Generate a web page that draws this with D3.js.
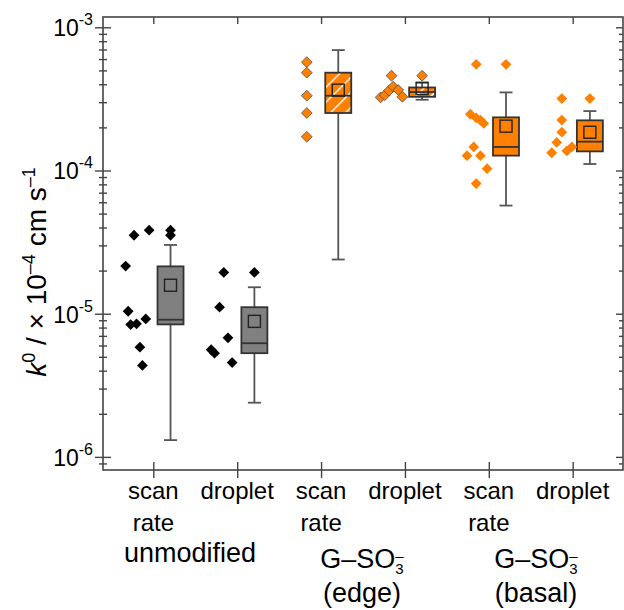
<!DOCTYPE html>
<html>
<head>
<meta charset="utf-8">
<script src="https://cdn.jsdelivr.net/npm/d3@7/dist/d3.min.js"></script>
<style>
  body { margin: 0; background: #fff; }
  text { font-family: "Liberation Sans", Arial, sans-serif; fill: #000; }
</style>
</head>
<body>
<div id="chart"></div>
<script>
// ---- data ----
const categories = [["scan", "rate"], ["droplet"], ["scan", "rate"], ["droplet"], ["scan", "rate"], ["droplet"]];
const groupLabels = ["unmodified", "edge", "basal"];
const yTickValues = [1e-6, 1e-5, 1e-4, 1e-3];

// individual measurements (cm/s) and their horizontal spread (category units)
const unmodScan = [2.15e-5, 3.53e-5, 3.83e-5, 1.04e-5, 8.4e-6, 8.5e-6, 9.2e-6, 5.84e-6, 4.35e-6];
const unmodScanJitter = [-0.33, -0.23, -0.05, -0.30, -0.27, -0.20, -0.09, -0.16, -0.13];
const unmodDrop = [1.94e-5, 1.11e-5, 6.79e-6, 5.6e-6, 5.3e-6, 4.56e-6];
const unmodDropJitter = [-0.16, -0.21, -0.11, -0.31, -0.27, -0.06];
const edgeScan = [5.71e-4, 4.82e-4, 3.33e-4, 2.52e-4, 1.72e-4];
const edgeScanJitter = [-0.17, -0.17, -0.17, -0.17, -0.17];
const edgeDrop = [4.59e-4, 3.24e-4, 3.36e-4, 3.61e-4, 3.85e-4, 3.65e-4, 3.27e-4];
const edgeDropJitter = [-0.16, -0.29, -0.24, -0.19, -0.14, -0.08, -0.03];
const basalScan = [5.51e-4, 2.47e-4, 2.33e-4, 2.25e-4, 2.13e-4, 1.46e-4, 1.27e-4, 1.27e-4, 1.03e-4, 8.11e-5];
const basalScanJitter = [-0.15, -0.22, -0.15, -0.10, -0.06, -0.18, -0.26, -0.10, -0.02, -0.15];
const basalDrop = [3.18e-4, 2.25e-4, 1.85e-4, 1.57e-4, 1.33e-4, 1.37e-4, 1.46e-4];
const basalDropJitter = [-0.13, -0.13, -0.13, -0.19, -0.25, -0.07, -0.01];

// box statistics per category
const whiskerLow  = [1.31e-6, 2.39e-6, 2.39e-5, 3.12e-4, 5.69e-5, 1.11e-4];
const q1          = [8.42e-6, 5.3e-6, 2.52e-4, 3.27e-4, 1.27e-4, 1.36e-4];
const median      = [9.08e-6, 6.22e-6, 3.33e-4, 3.53e-4, 1.46e-4, 1.59e-4];
const q3          = [2.14e-5, 1.11e-5, 4.82e-4, 3.80e-4, 2.35e-4, 2.24e-4];
const whiskerHigh = [3.02e-5, 1.53e-5, 6.93e-4, 4.12e-4, 3.51e-4, 2.60e-4];
const means       = [1.58e-5, 8.84e-6, 3.64e-4, 3.73e-4, 2.04e-4, 1.85e-4];
const outliers    = [[3.83e-5, 3.53e-5], [1.94e-5], [], [4.59e-4], [5.51e-4], [3.18e-4]];

const orange = "#ff8000";
const gray = "#808080";

// ---- layout ----
const W = 624, H = 610;
const svg = d3.select("#chart").append("svg")
    .attr("width", W)
    .attr("height", H);

const x = d3.scaleLinear().domain([0.4, 6.6]).range([103, 623]);
const y = d3.scaleLog().domain([8.1e-7, 1.18e-3]).range([470, 17]);
const boxShift = 0.205;
const boxW = 26;

const defs = svg.append("defs");
const hatch = defs.append("pattern")
    .attr("id", "hatch")
    .attr("patternUnits", "userSpaceOnUse")
    .attr("width", 15)
    .attr("height", 15);
hatch.append("rect").attr("width", 15).attr("height", 15).attr("fill", orange);
hatch.append("path")
    .attr("d", "M-4,4 L4,-4 M0,15 L15,0 M11,19 L19,11")
    .attr("stroke", "#fff")
    .attr("stroke-width", 1.4);

const pointSets = [
    {values: unmodScan, jitter: unmodScanJitter, fill: "#000", stroke: "none"},
    {values: unmodDrop, jitter: unmodDropJitter, fill: "#000", stroke: "none"},
    {values: edgeScan, jitter: edgeScanJitter, fill: orange, stroke: "#555"},
    {values: edgeDrop, jitter: edgeDropJitter, fill: orange, stroke: "#555"},
    {values: basalScan, jitter: basalScanJitter, fill: orange, stroke: "none"},
    {values: basalDrop, jitter: basalDropJitter, fill: orange, stroke: "none"}
];
const boxFills = [gray, gray, "url(#hatch)", "url(#hatch)", orange, orange];

const boxes = categories.map((c, i) => ({
    pos: i + 1,
    lo: whiskerLow[i], q1: q1[i], med: median[i], q3: q3[i], hi: whiskerHigh[i],
    mean: means[i], out: outliers[i], fill: boxFills[i],
    pfill: pointSets[i].fill, pstroke: pointSets[i].stroke
}));

const diamond = d3.symbol(d3.symbolSquare, 58);

// ---- boxes ----
const bg = svg.selectAll(".box")
    .data(boxes)
    .enter().append("g")
    .attr("class", "box")
    .attr("transform", d => `translate(${x(d.pos + boxShift)},0)`);

bg.append("line")
    .attr("y1", d => y(d.lo)).attr("y2", d => y(d.hi))
    .attr("stroke", "#555").attr("stroke-width", 1.8);
bg.append("line")
    .attr("x1", -6.5).attr("x2", 6.5)
    .attr("y1", d => y(d.hi)).attr("y2", d => y(d.hi))
    .attr("stroke", "#555").attr("stroke-width", 1.8);
bg.append("line")
    .attr("x1", -6.5).attr("x2", 6.5)
    .attr("y1", d => y(d.lo)).attr("y2", d => y(d.lo))
    .attr("stroke", "#555").attr("stroke-width", 1.8);
bg.append("rect")
    .attr("x", -boxW / 2).attr("width", boxW)
    .attr("y", d => y(d.q3))
    .attr("height", d => y(d.q1) - y(d.q3))
    .attr("fill", d => d.fill)
    .attr("stroke", "#333").attr("stroke-width", 1.8);
bg.append("line")
    .attr("x1", -boxW / 2).attr("x2", boxW / 2)
    .attr("y1", d => y(d.med)).attr("y2", d => y(d.med))
    .attr("stroke", "#333").attr("stroke-width", 1.8);
bg.append("rect")
    .attr("x", -6).attr("width", 12)
    .attr("y", d => y(d.mean) - 6).attr("height", 12)
    .attr("fill", "none")
    .attr("stroke", "#222").attr("stroke-width", 1.4);
bg.selectAll(".outlier")
    .data(d => d.out.map(v => ({v: v, fill: d.pfill, stroke: d.pstroke})))
    .enter().append("path")
    .attr("class", "outlier")
    .attr("d", diamond)
    .attr("transform", d => `translate(0,${y(d.v)}) rotate(45)`)
    .attr("fill", d => d.fill)
    .attr("stroke", d => d.stroke)
    .attr("stroke-width", 0.8);

// ---- raw points ----
pointSets.forEach((s, i) => {
    svg.append("g").selectAll("path")
        .data(s.values.map((v, k) => ({v: v, j: s.jitter[k]})))
        .enter().append("path")
        .attr("d", diamond)
        .attr("transform", d => `translate(${x(i + 1 + d.j)},${y(d.v)}) rotate(45)`)
        .attr("fill", s.fill)
        .attr("stroke", s.stroke)
        .attr("stroke-width", 0.8);
});

// ---- axes ----
const axisColor = "#444";
const allTicks = y.ticks();
const isMajor = d => Math.abs(Math.log10(d) - Math.round(Math.log10(d))) < 1e-6;

// left axis, ticks cross the line
const leftAxis = svg.append("g")
    .attr("transform", "translate(103,0)")
    .call(d3.axisLeft(y).tickValues(allTicks).tickSize(8).tickFormat(""));
leftAxis.selectAll(".tick line")
    .attr("x1", d => isMajor(d) ? 8 : 4)
    .attr("x2", d => isMajor(d) ? -8 : -4);

// tick labels 10^n
svg.append("g").selectAll("text")
    .data(yTickValues)
    .enter().append("text")
    .attr("x", 93)
    .attr("y", d => y(d) + 9)
    .attr("text-anchor", "end")
    .style("font-size", "23px")
    .each(function (d) {
        const t = d3.select(this);
        t.append("tspan").text("10");
        t.append("tspan").attr("dy", -11).style("font-size", "16px")
            .text("-" + Math.abs(Math.round(Math.log10(d))));
    });

// right axis, inward ticks
const rightAxis = svg.append("g")
    .attr("transform", "translate(623,0)")
    .call(d3.axisLeft(y).tickValues(allTicks).tickSize(7).tickFormat(""));
rightAxis.selectAll(".tick line")
    .attr("x2", d => isMajor(d) ? -7 : -4);

// bottom axis, crossing ticks
const xTicks = categories.map((c, i) => i + 1);
const bottomAxis = svg.append("g")
    .attr("transform", "translate(0,470)")
    .call(d3.axisBottom(x).tickValues(xTicks).tickSize(8).tickFormat(""));
bottomAxis.selectAll(".tick line").attr("y1", -8);

// top axis, inward ticks
svg.append("g")
    .attr("transform", "translate(0,17)")
    .call(d3.axisBottom(x).tickValues(xTicks).tickSize(7).tickFormat(""));

svg.selectAll(".domain").remove();
svg.selectAll(".tick line").attr("stroke", axisColor).attr("stroke-width", 1.4);

svg.append("rect")
    .attr("x", 103).attr("y", 17)
    .attr("width", 520).attr("height", 453)
    .attr("fill", "none")
    .attr("stroke", axisColor)
    .attr("stroke-width", 1.6);

// category labels
categories.forEach((lines, i) => {
    const t = svg.append("text")
        .attr("x", x(i + 1))
        .attr("y", 499)
        .attr("text-anchor", "middle")
        .style("font-size", "24px");
    lines.forEach((ln, k) => {
        t.append("tspan").attr("x", x(i + 1)).attr("dy", k === 0 ? 0 : 32).text(ln);
    });
});

// group labels
const groupX = [190, 362, 536];
svg.append("text")
    .attr("x", groupX[0]).attr("y", 562)
    .attr("text-anchor", "middle")
    .style("font-size", "27px")
    .text(groupLabels[0]);

[1, 2].forEach(g => {
    const t = svg.append("text")
        .attr("x", groupX[g]).attr("y", 568)
        .attr("text-anchor", "middle")
        .style("font-size", "27px");
    t.append("tspan").text("G–SO");
    t.append("tspan").attr("dy", 6).style("font-size", "15px").text("3");
    t.append("tspan").attr("dx", -8.3).attr("dy", -13).style("font-size", "15px").text("–");
    svg.append("text")
        .attr("x", groupX[g]).attr("y", 602)
        .attr("text-anchor", "middle")
        .style("font-size", "27px")
        .text("(" + groupLabels[g] + ")");
});

// y axis title
const yt = svg.append("text")
    .attr("transform", "translate(46,272) rotate(-90)")
    .attr("text-anchor", "middle")
    .style("font-size", "28px");
yt.append("tspan").style("font-style", "italic").text("k");
yt.append("tspan").attr("dy", -11).style("font-size", "18px").text("0");
yt.append("tspan").attr("dy", 11).text(" / × 10");
yt.append("tspan").attr("dy", -11).style("font-size", "18px").text("–4");
yt.append("tspan").attr("dy", 11).text(" cm s");
yt.append("tspan").attr("dy", -11).style("font-size", "18px").text("–1");
</script>
</body>
</html>
